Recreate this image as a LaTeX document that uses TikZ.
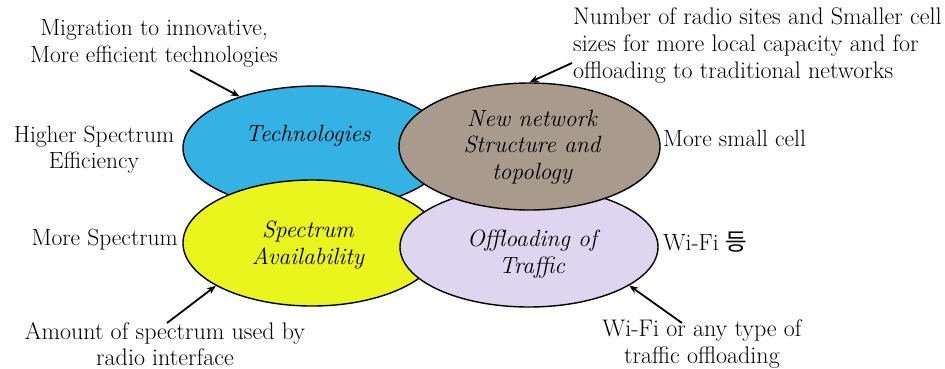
\documentclass[tikz,border=0pt]{standalone}
\usepackage{fontspec}
\newfontfamily\krfont{Noto Sans CJK KR}
\usetikzlibrary{arrows.meta,shapes.geometric}
\definecolor{techblue}{RGB}{52,178,228}
\definecolor{netbrown}{RGB}{168,154,140}
\definecolor{specyellow}{RGB}{234,245,30}
\definecolor{offlav}{RGB}{222,214,240}
\tikzset{
  oval/.style={ellipse, draw=black, line width=1.4pt, inner sep=0pt},
  ovallabel/.style={font=\fontsize{23.5}{26.5}\selectfont\itshape, align=center, inner sep=0pt, text=black},
  note/.style={font=\fontsize{23.5}{26.5}\selectfont, inner sep=0pt, text=black},
  pointer/.style={line width=1.8pt, -{Stealth[length=9pt,width=7pt]}}
}
\begin{document}
\begin{tikzpicture}[x=1pt,y=-1pt]
\path[use as bounding box] (0,0) rectangle (945,369);
% ellipses
\node[oval, fill=techblue, minimum width=266pt, minimum height=124pt] (tech) at (316,148) {};
\node[oval, fill=specyellow, minimum width=258pt, minimum height=126pt] (spec) at (312,243) {};
\node[oval, fill=offlav, minimum width=258pt, minimum height=120pt] (off) at (529,247) {};
\node[oval, fill=netbrown, minimum width=261pt, minimum height=127pt] (net) at (529.5,146.5) {};
% ellipse labels
\node[ovallabel] (techl) at (308,136) {Technologies};
\node[ovallabel] (netl) at (532,147) {New network\\Structure and\\topology};
\node[ovallabel] (specl) at (308,245) {Spectrum\\Availability};
\node[ovallabel] (offl) at (532,254) {Offloading of\\Traffic};
% notes
\node[note, align=center] (mig) at (154,43.5) {Migration to innovative,\\More efficient technologies};
\node[note, align=left, anchor=west, font=\fontsize{24}{27}\selectfont] (num) at (573,46) {Number of radio sites and Smaller cell\\sizes for more local capacity and for\\offloading to traditional networks};
\node[note, align=center] (hse) at (94,149.5) {Higher Spectrum\\Efficiency};
\node[note, anchor=west] (msc) at (663,138) {More small cell};
\node[note, anchor=east] (ms) at (178,240) {More Spectrum};
\node[note, anchor=west] (wifi) at (663,242) {Wi-Fi {\krfont 등}};
\node[note, align=center, font=\fontsize{24}{26.5}\selectfont] (amt) at (165,344) {Amount of spectrum used by\\radio interface};
\node[note, align=center, font=\fontsize{24}{26.5}\selectfont] (wfo) at (702,344) {Wi-Fi or any type of\\traffic offloading};
% arrow tails
\coordinate (migt) at (190,70);
\coordinate (numt) at (572,63);
\coordinate (amtt) at (167,323);
\coordinate (wfot) at (682,323);
% arrows
\draw[pointer] (migt) -- (tech.146);
\draw[pointer] (numt) -- (net.90);
\draw[pointer] (amtt) -- (spec.204);
\draw[pointer] (wfot) -- (off.339);
\end{tikzpicture}
\end{document}
